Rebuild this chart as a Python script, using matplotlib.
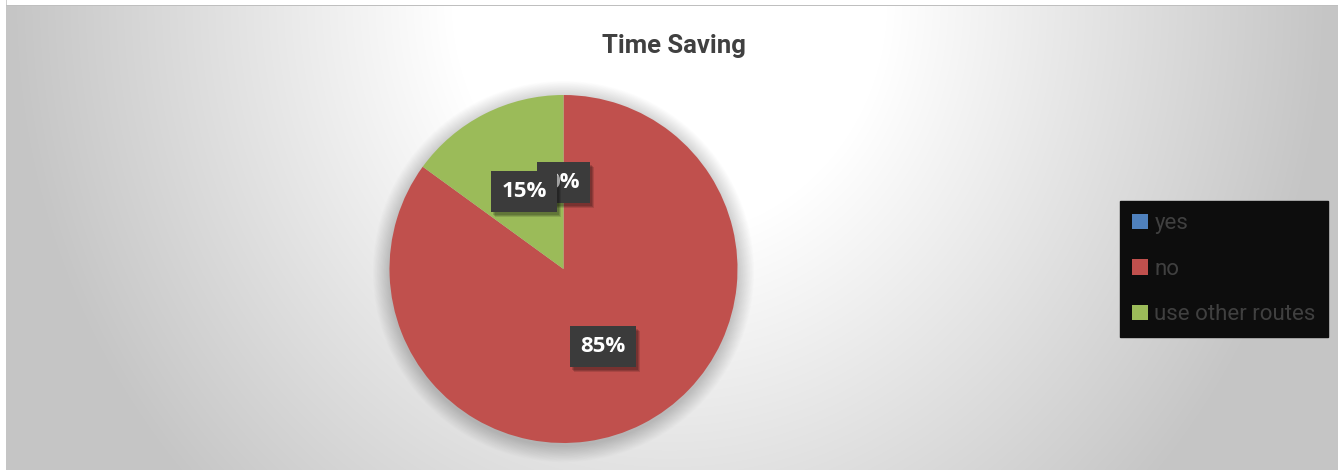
import numpy as np
import matplotlib
matplotlib.use("Agg")
import matplotlib.pyplot as plt
import matplotlib.transforms as mtransforms
from matplotlib.patches import Circle, Patch

title = "Time Saving"
categories = ["yes", "no", "use other routes"]
values = [0, 85, 15]
colors = ["#4f81bd", "#c0504d", "#9bbb59"]

W, H = 1338, 470
fig = plt.figure(figsize=(W / 100, H / 100), dpi=100)
fig.patch.set_facecolor("white")

# background gradient (radial, white near top centre, grey at the edges)
bg = fig.add_axes([0, 0, 1, 1], zorder=-10)
yy, xx = np.mgrid[0:H, 0:W].astype(float)
cx, cy = 669.0, 0.0
d = np.sqrt(((xx - cx) / 660.0) ** 2 + ((yy - cy) / 714.0) ** 2)
t = np.clip((d - 0.33) / 0.67, 0, 1)
val = (255 - 58 * t) / 255.0
img = np.dstack([val, val, val])
img[:, :6] = 1.0
img[:5, :] = 1.0
img[5, 6:] = 0.75
img[:, 6] = np.minimum(img[:, 6], 0.82)
bg.imshow(img, extent=[0, W, H, 0], aspect="auto", interpolation="bilinear")
bg.set_xlim(0, W)
bg.set_ylim(H, 0)
bg.axis("off")

# pie axes
cxp, cyp, r = 563.5, 269.0, 174.0
ax = fig.add_axes([(cxp - r) / W, (H - cyp - r) / H, 2 * r / W, 2 * r / H])
ax.set_facecolor("none")

# soft shadow under the pie
for i in range(24):
    ax.add_patch(Circle((0.0, -0.015), 1.0 + 0.004 * (i + 1), color="black",
                        alpha=0.008, lw=0, zorder=0, clip_on=False))

lab_font = ["Open Sans", "DejaVu Sans"]
wedges, texts, autotexts = ax.pie(
    values, colors=colors, startangle=90, counterclock=False,
    autopct=lambda p: f"{p:.0f}%", pctdistance=0.5,
    wedgeprops=dict(linewidth=0, zorder=2),
    textprops=dict(color="white", fontsize=16, fontweight="bold", family=lab_font))
ax.set_xlim(-1, 1)
ax.set_ylim(-1, 1)
ax.set_aspect("equal")
ax.axis("off")

for i, tx in enumerate(autotexts):
    tx.set_bbox(dict(boxstyle="square,pad=0.45", facecolor="#3b3b3b", edgecolor="none"))
    tx.set_zorder(10 + 2 * i + 1)
    x0, y0 = tx.get_position()
    for k, (ox, oy, a) in enumerate([(4, -5, 0.12), (3, -4, 0.15), (2, -3, 0.15)]):
        sh_tr = mtransforms.offset_copy(ax.transData, fig=fig, x=ox, y=oy, units="dots")
        ax.text(x0, y0, tx.get_text(), transform=sh_tr, ha="center", va="center",
                fontsize=16, fontweight="bold", family=lab_font,
                color="none", zorder=10 + 2 * i,
                bbox=dict(boxstyle="square,pad=0.45", facecolor="black", alpha=a,
                          edgecolor="none"))

fig.text(673.5 / W, 1 - 46 / H, title, ha="center", va="center",
         fontsize=18.5, fontweight="bold", color="#404040",
         family=["Liberation Sans Narrow", "Roboto", "DejaVu Sans"])

handles = [Patch(facecolor=c, edgecolor="none") for c in colors]
leg = fig.legend(handles, categories, loc="upper left",
                 bbox_to_anchor=(1120 / W, 1 - 201 / H),
                 frameon=True, facecolor="#0d0d0d", edgecolor="#0d0d0d",
                 framealpha=1, fancybox=False, borderaxespad=0,
                 handlelength=0.7, handleheight=0.7, handletextpad=0.3,
                 labelspacing=1.1, borderpad=0.55, labelcolor="#404040",
                 prop=dict(family=["Liberation Sans Narrow", "Roboto", "DejaVu Sans"], size=16))

fig.savefig("out.png", dpi=100)
